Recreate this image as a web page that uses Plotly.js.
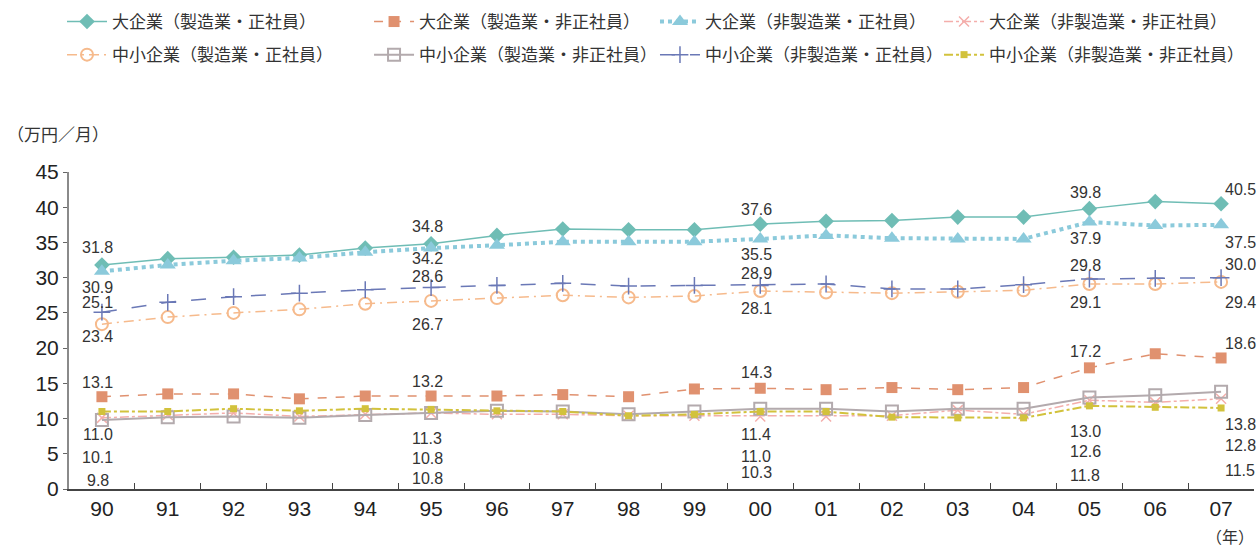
<!DOCTYPE html>
<html>
<head>
<meta charset="utf-8">
<script src="https://cdn.plot.ly/plotly-3.0.1.min.js"></script>
<style>html,body{margin:0;padding:0;background:#fff;}#chart{width:1258px;height:549px;}</style>
</head>
<body>
<div id="chart"></div>
<script>
// ---- data ----
var years = ['90','91','92','93','94','95','96','97','98','99','00','01','02','03','04','05','06','07'];
var names = [
  '大企業（製造業・正社員）',
  '大企業（製造業・非正社員）',
  '大企業（非製造業・正社員）',
  '大企業（非製造業・非正社員）',
  '中小企業（製造業・正社員）',
  '中小企業（製造業・非正社員）',
  '中小企業（非製造業・正社員）',
  '中小企業（非製造業・非正社員）'
];
var largeMfgRegular     = [31.8, 32.7, 32.9, 33.2, 34.2, 34.8, 36.0, 36.9, 36.8, 36.8, 37.6, 38.0, 38.1, 38.6, 38.6, 39.8, 40.8, 40.5];
var largeMfgNonRegular  = [13.1, 13.5, 13.5, 12.8, 13.2, 13.2, 13.2, 13.4, 13.1, 14.2, 14.3, 14.1, 14.4, 14.1, 14.4, 17.2, 19.2, 18.6];
var largeNonMfgRegular  = [30.9, 31.8, 32.4, 32.8, 33.6, 34.2, 34.6, 35.1, 35.1, 35.1, 35.5, 36.0, 35.6, 35.5, 35.5, 37.9, 37.4, 37.5];
var largeNonMfgNonReg   = [10.1, 10.5, 10.8, 10.3, 10.6, 10.8, 10.6, 10.6, 10.4, 10.4, 10.3, 10.3, 10.4, 11.2, 10.6, 12.6, 12.3, 12.8];
var smeMfgRegular       = [23.4, 24.4, 25.0, 25.5, 26.3, 26.7, 27.1, 27.5, 27.2, 27.4, 28.1, 27.9, 27.8, 28.0, 28.2, 29.1, 29.1, 29.4];
var smeMfgNonRegular    = [9.8, 10.2, 10.3, 10.1, 10.5, 10.8, 11.1, 11.0, 10.6, 11.0, 11.4, 11.4, 11.0, 11.4, 11.4, 13.0, 13.3, 13.8];
var smeNonMfgRegular    = [25.1, 26.5, 27.3, 27.8, 28.3, 28.6, 28.9, 29.2, 28.8, 28.9, 28.9, 29.1, 28.4, 28.4, 29.0, 29.8, 29.9, 30.0];
var smeNonMfgNonReg     = [11.0, 11.0, 11.4, 11.1, 11.4, 11.3, 11.1, 11.0, 10.4, 10.6, 11.0, 11.0, 10.2, 10.1, 10.1, 11.8, 11.6, 11.5];
var labelIdx = [0, 5, 10, 15, 17];
var yTickVals = [0,5,10,15,20,25,30,35,40,45];

// ---- styles ----
var NUM_FONT = 'Liberation Sans, Arial, sans-serif';
var CJK_FONT = 'Noto Sans CJK JP, sans-serif';
var styles = [
  {y: largeMfgRegular,    color:'#6fbdb5', dash:'solid', width:1.5, symbol:'diamond', size:12, mline:0, legend:'legend', shifts:[17,17,15,15.7,14.7]},
  {y: largeMfgNonRegular, color:'#e0916f', dash:'dash', width:1.5, symbol:'square', size:11, mline:0, legend:'legend2', shifts:[14,14.6,16,16.4,14.3]},
  {y: largeNonMfgRegular, color:'#8bcadb', dash:'dot', width:4, symbol:'triangle-up', size:14, mline:0, legend:'legend3', shifts:[-16,-10,-16,-16,-18]},
  {y: largeNonMfgNonReg,  color:'#f4aeab', dash:'dashdot', width:1.5, symbol:'x-thin-open', size:10, mline:1.5, legend:'legend4', shifts:[-39.6,-46,-55.6,-51,-46.6]},
  {y: smeMfgRegular,      color:'#f6ba8c', dash:'10px,5px,2px,5px', width:1.5, symbol:'circle-open', size:12, mline:2, legend:'legend', shifts:[-12.5,-24,-17.6,-18.4,-20.5]},
  {y: smeMfgNonRegular,   color:'#b3aaad', dash:'solid', width:2, symbol:'square-open', size:12, mline:2, legend:'legend2', shifts:[-60.7,-66,-26,-34,-33]},
  {y: smeNonMfgRegular,   color:'#6a78b6', dash:'longdash', width:1.5, symbol:'cross-thin-open', size:12, mline:1.5, legend:'legend3', shifts:[10,11,12.4,13.4,13]},
  {y: smeNonMfgNonReg,    color:'#d2c23c', dash:'dashdot', width:2, symbol:'square', size:7, mline:0, legend:'legend4', shifts:[-23,-28.6,-45,-69.5,-62.4]}
];

var traces = styles.map(function(s, i){
  return {
    type:'scatter', mode:'lines+markers', x: years, y: s.y, name: names[i],
    legend: s.legend, legendgroup: 'g' + i,
    line:{color:s.color, dash:s.dash, width:s.width},
    marker:{symbol:s.symbol, size:s.size, color:s.color,
            line:{color:s.color, width:s.mline}},
    hoverinfo:'skip'
  };
});

var annotations = [];
styles.forEach(function(s){
  labelIdx.forEach(function(idx, k){
    var last = (idx === years.length - 1);
    annotations.push({
      x: idx, y: s.y[idx], xref:'x', yref:'y',
      text: s.y[idx].toFixed(1), showarrow:false,
      xanchor: last ? 'left' : 'center', yanchor:'middle',
      xshift: last ? 2 : -4, yshift: s.shifts[k],
      font:{family:NUM_FONT, size:16, color:'#333'}
    });
  });
});
annotations.push({xref:'paper', yref:'paper', x:-0.054, y:1.123, xanchor:'left', yanchor:'middle',
  text:'（万円／月）', showarrow:false, font:{family:CJK_FONT, size:17, color:'#333'}});
annotations.push({xref:'paper', yref:'paper', x:0.958, y:-0.148, xanchor:'left', yanchor:'middle',
  text:'（年）', showarrow:false, font:{family:CJK_FONT, size:16, color:'#333'}});

function mkLegend(x){
  return {
    orientation:'v', xanchor:'left', yanchor:'top', x:x, y:1.530,
    itemwidth:40, tracegroupgap:8,
    bgcolor:'rgba(0,0,0,0)', borderwidth:0, traceorder:'grouped',
    font:{family:CJK_FONT, size:17, color:'#333'}
  };
}

var layout = {
  width:1258, height:549,
  margin:{l:69, r:4, t:172, b:60},
  paper_bgcolor:'#fff', plot_bgcolor:'#fff',
  showlegend:true,
  legend: mkLegend(-0.0059),
  legend2: mkLegend(0.2532),
  legend3: mkLegend(0.4945),
  legend4: mkLegend(0.7342),
  xaxis:{type:'category', range:[-0.5, 17.5], showgrid:false, zeroline:false,
    showline:true, linecolor:'#444', linewidth:1.5,
    ticks:'inside', ticklen:6, tickcolor:'#444', tickson:'boundaries',
    tickfont:{family:NUM_FONT, size:21, color:'#222'}},
  yaxis:{range:[0,45], tickvals:yTickVals, showgrid:false, zeroline:false,
    showline:true, linecolor:'#8a8a8a', linewidth:2,
    ticks:'outside', ticklen:4, tickcolor:'#666',
    tickfont:{family:NUM_FONT, size:21, color:'#222'}},
  annotations: annotations
};

Plotly.newPlot('chart', traces, layout, {staticPlot:true, displayModeBar:false});
</script>
</body>
</html>
